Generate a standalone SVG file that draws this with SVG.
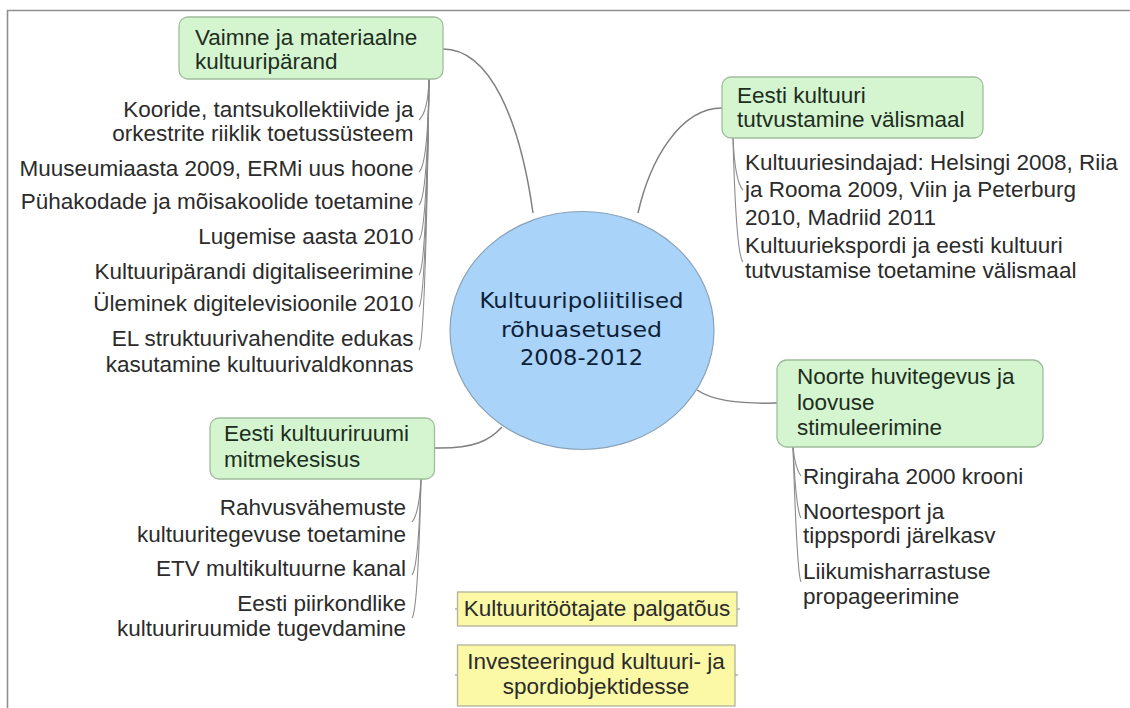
<svg xmlns="http://www.w3.org/2000/svg" width="1130" height="708" viewBox="0 0 1130 708">
<style>
  .frame{fill:none;stroke:#8f8f8f;stroke-width:1.6}
  .topic{fill:#d5f5d1;stroke:#9fbd9c;stroke-width:1.3}
  .float{fill:#fbf8a6;stroke:#b3b39c;stroke-width:1.3}
  .central{fill:#a9d3f8;stroke:#8aa2b8;stroke-width:1.2}
  .main{fill:none;stroke:#808080;stroke-width:1.5}
  .sub{fill:none;stroke:#8a8a8a;stroke-width:1.1}
  text{font-family:"Liberation Sans",Arial,sans-serif;font-size:22.5px}
  .tt{fill:#1d2e1d}
  .it{fill:#2b2b2b}
  .ct{fill:#0e1f38;font-family:"DejaVu Sans","Liberation Sans",sans-serif;font-size:22px}
  .r{text-anchor:end}
  .m{text-anchor:middle}
</style>
<rect width="1130" height="708" fill="#ffffff"/>
<path class="frame" d="M7.5,708 V10.5 H1130"/>

<g id="connectors">
  <path class="main" d="M443,49 C490,49 520,120 533,213"/>
  <path class="main" d="M722,108 C680,108 650,160 638,213"/>
  <path class="main" d="M777,403 C735,404 712,400 697,390"/>
  <path class="main" d="M434,448 C475,449 490,440 502,427"/>
  <!-- topic 1 children -->
  <path class="sub" d="M429,79 Q428,112 419,120"/>
  <path class="sub" d="M429,79 Q428,164 419,172"/>
  <path class="sub" d="M429,79 Q427.5,197 419,205"/>
  <path class="sub" d="M429,79 Q427,232 419,240"/>
  <path class="sub" d="M429,79 Q426.5,267 419,275"/>
  <path class="sub" d="M429,79 Q426,299 419,307"/>
  <path class="sub" d="M429,79 Q425.5,342 419,350"/>
  <!-- topic 2 children -->
  <path class="sub" d="M733,138 Q735,182 743,190"/>
  <path class="sub" d="M733,138 Q736,254 743,262"/>
  <!-- topic 3 children -->
  <path class="sub" d="M793,447 Q795,468 801,476"/>
  <path class="sub" d="M793,447 Q796,510 801,518"/>
  <path class="sub" d="M793,447 Q797,574 801,582"/>
  <!-- topic 4 children -->
  <path class="sub" d="M421,479 Q419,514 412,522"/>
  <path class="sub" d="M421,479 Q418.5,567 412,575"/>
  <path class="sub" d="M421,479 Q418,610 412,618"/>
  <!-- floating topic stubs -->
  <path class="sub" d="M455,609 H458 M737,609 H740 M455,675 H458 M735,675 H738"/>
</g>

<g id="central">
  <ellipse class="central" cx="582" cy="330.5" rx="132" ry="119"/>
  <text class="ct m" x="581.5" y="308" textLength="204" lengthAdjust="spacingAndGlyphs">Kultuuripoliitilised</text>
  <text class="ct m" x="581.5" y="336.5" textLength="161" lengthAdjust="spacingAndGlyphs">rõhuasetused</text>
  <text class="ct m" x="581.5" y="365" textLength="123" lengthAdjust="spacingAndGlyphs">2008-2012</text>
</g>

<g id="topic-vaimne">
  <rect class="topic" x="179" y="17" width="264" height="62" rx="9"/>
  <text class="tt" x="195" y="44.5">Vaimne ja materiaalne</text>
  <text class="tt" x="195" y="68.5">kultuuripärand</text>
</g>
<g id="items-vaimne">
  <text class="it r" x="413.5" y="117">Kooride, tantsukollektiivide ja</text>
  <text class="it r" x="413.5" y="140.5">orkestrite riiklik toetussüsteem</text>
  <text class="it r" x="413.5" y="176">Muuseumiaasta 2009, ERMi uus hoone</text>
  <text class="it r" x="413.5" y="208.5">Pühakodade ja mõisakoolide toetamine</text>
  <text class="it r" x="413.5" y="243.5">Lugemise aasta 2010</text>
  <text class="it r" x="413.5" y="278.5">Kultuuripärandi digitaliseerimine</text>
  <text class="it r" x="413.5" y="311">Üleminek digitelevisioonile 2010</text>
  <text class="it r" x="413.5" y="346">EL struktuurivahendite edukas</text>
  <text class="it r" x="413.5" y="372">kasutamine kultuurivaldkonnas</text>
</g>

<g id="topic-valismaal">
  <rect class="topic" x="722" y="77" width="261" height="61" rx="9"/>
  <text class="tt" x="737" y="103">Eesti kultuuri</text>
  <text class="tt" x="737" y="127">tutvustamine välismaal</text>
</g>
<g id="items-valismaal">
  <text class="it" x="745" y="170">Kultuuriesindajad: Helsingi 2008, Riia</text>
  <text class="it" x="745" y="197">ja Rooma 2009, Viin ja Peterburg</text>
  <text class="it" x="745" y="225">2010, Madriid 2011</text>
  <text class="it" x="745" y="253">Kultuuriekspordi ja eesti kultuuri</text>
  <text class="it" x="745" y="278">tutvustamise toetamine välismaal</text>
</g>

<g id="topic-noorte">
  <rect class="topic" x="777" y="360" width="266" height="87" rx="10"/>
  <text class="tt" x="797" y="384">Noorte huvitegevus ja</text>
  <text class="tt" x="797" y="409.5">loovuse</text>
  <text class="tt" x="797" y="435">stimuleerimine</text>
</g>
<g id="items-noorte">
  <text class="it" x="803" y="483.5">Ringiraha 2000 krooni</text>
  <text class="it" x="803" y="518.5">Noortesport ja</text>
  <text class="it" x="803" y="543">tippspordi järelkasv</text>
  <text class="it" x="803" y="578.5">Liikumisharrastuse</text>
  <text class="it" x="803" y="603.5">propageerimine</text>
</g>

<g id="topic-kultuuriruum">
  <rect class="topic" x="210" y="418" width="224.5" height="61" rx="9"/>
  <text class="tt" x="224" y="441">Eesti kultuuriruumi</text>
  <text class="tt" x="224" y="467">mitmekesisus</text>
</g>
<g id="items-kultuuriruum">
  <text class="it r" x="406" y="515">Rahvusvähemuste</text>
  <text class="it r" x="406" y="541.5">kultuuritegevuse toetamine</text>
  <text class="it r" x="406" y="576">ETV multikultuurne kanal</text>
  <text class="it r" x="406" y="611">Eesti piirkondlike</text>
  <text class="it r" x="406" y="635.5">kultuuriruumide tugevdamine</text>
</g>

<g id="float-palgatous">
  <rect class="float" x="457.5" y="592" width="279.5" height="34"/>
  <text class="it m" x="597" y="615.5">Kultuuritöötajate palgatõus</text>
</g>
<g id="float-investeeringud">
  <rect class="float" x="457.5" y="645" width="277.5" height="61"/>
  <text class="it m" x="596" y="668.5">Investeeringud kultuuri- ja</text>
  <text class="it m" x="596" y="693.5">spordiobjektidesse</text>
</g>
</svg>
